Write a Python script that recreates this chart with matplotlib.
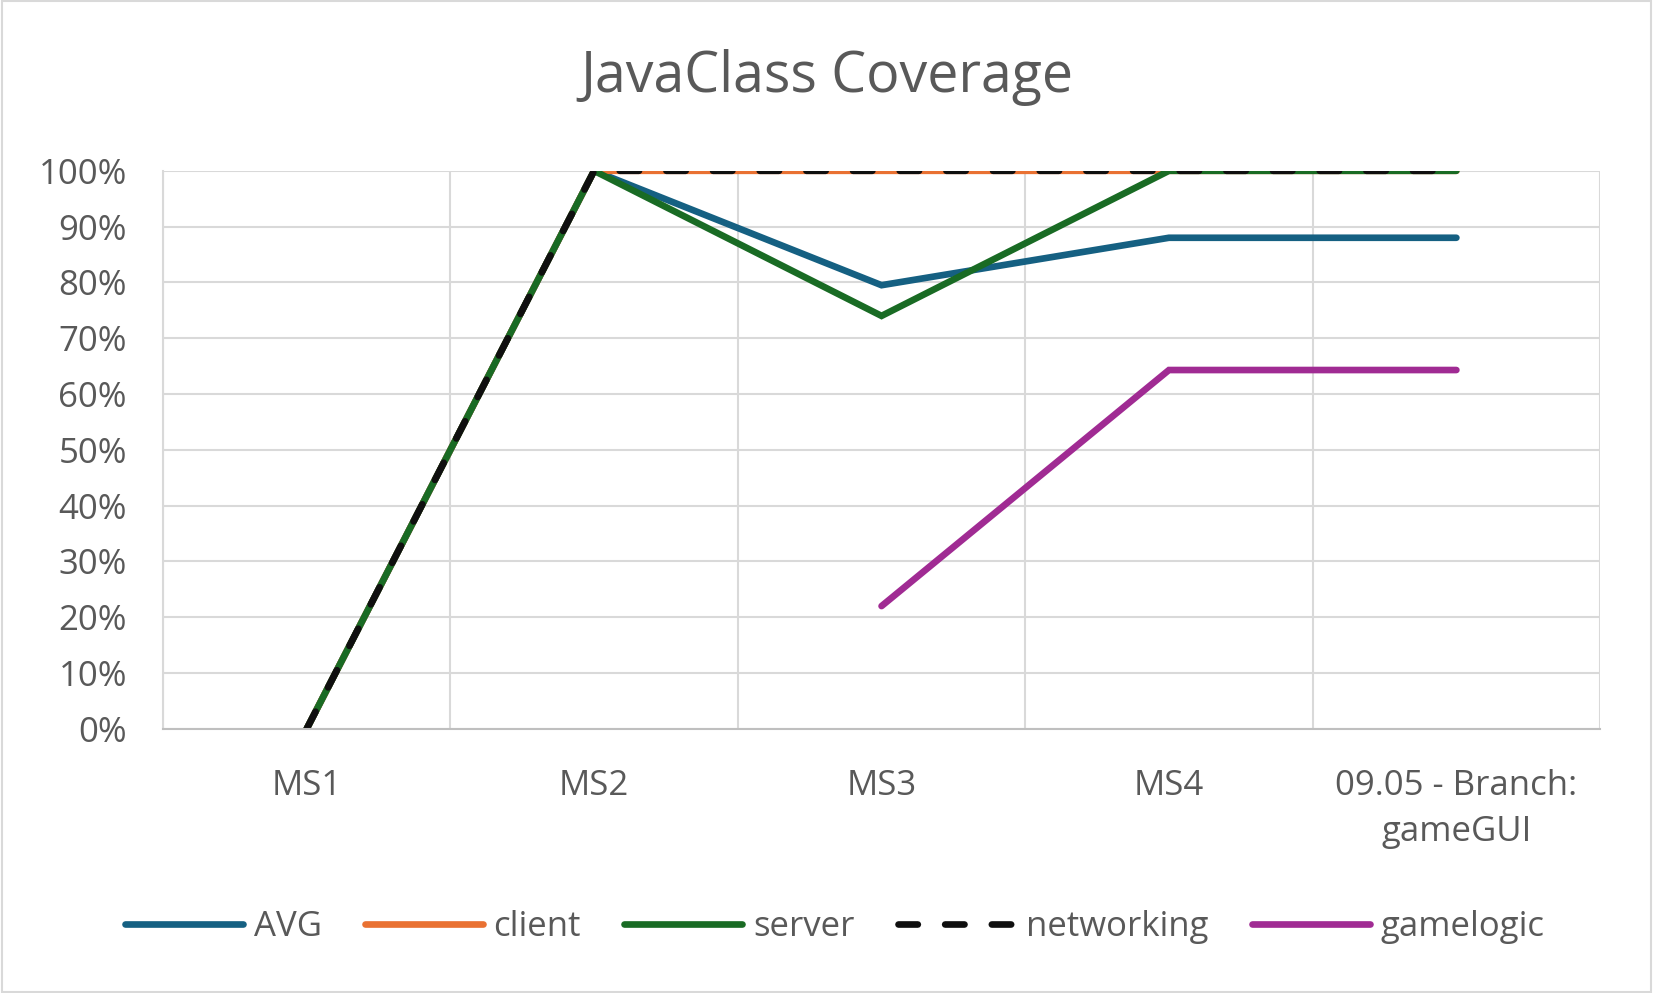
import matplotlib
matplotlib.use("Agg")
import matplotlib.pyplot as plt
import numpy as np
from matplotlib.patches import Rectangle

categories = ["MS1", "MS2", "MS3", "MS4", "09.05 - Branch:\ngameGUI"]
avg = [0, 100, 79.5, 88, 88]
client = [0, 100, 100, 100, 100]
server = [0, 100, 74, 100, 100]
networking = [0, 100, 100, 100, 100]
gamelogic = [np.nan, np.nan, 22, 64.3, 64.3]
yticks = [0, 10, 20, 30, 40, 50, 60, 70, 80, 90, 100]

plt.rcParams['font.family'] = ['Open Sans', 'DejaVu Sans']
txt = '#595959'

fig = plt.figure(figsize=(16.53, 9.93), dpi=100)
ax = fig.add_axes([0.0986, 0.266, 0.8694, 0.562])
x = np.arange(len(categories))
lw = 4.8
ax.plot(x, avg, color='#156082', lw=lw, solid_capstyle='round', solid_joinstyle='miter', label='AVG', zorder=3)
ax.plot(x, client, color='#E97132', lw=lw, solid_capstyle='round', label='client', zorder=3)
ax.plot(x, server, color='#196B24', lw=lw, solid_capstyle='round', solid_joinstyle='miter', label='server', zorder=3)
ax.plot(x, networking, color='#0F0F0F', lw=lw, dashes=(2.9, 4.1), dash_capstyle='round', label='networking', zorder=3)
ax.plot(x, gamelogic, color='#A02B93', lw=lw, solid_capstyle='round', solid_joinstyle='miter', label='gamelogic', zorder=3)

ax.set_xlim(-0.5, len(categories) - 0.5)
ax.set_ylim(0, 100)
ax.set_yticks(yticks)
ax.set_yticklabels([f"{v}%" for v in yticks])
ax.set_xticks(x)
ax.set_xticklabels(categories)
for t in ax.get_xticklabels():
    t.set_linespacing(1.45)
ax.set_xticks(np.arange(-0.5, len(categories)), minor=True)
ax.grid(True, which='major', axis='y', color='#D9D9D9', lw=1.5)
ax.grid(True, which='minor', axis='x', color='#D9D9D9', lw=1.5)
ax.tick_params(axis='both', which='both', length=0, labelsize=25, labelcolor=txt)
ax.tick_params(axis='x', pad=29)
ax.tick_params(axis='y', pad=26)
for s in ['top', 'right']:
    ax.spines[s].set_visible(False)
ax.spines['bottom'].set_color('#BFBFBF')
ax.spines['bottom'].set_linewidth(1.5)
ax.spines['left'].set_color('#D9D9D9')
ax.spines['left'].set_linewidth(1.5)
ax.spines['bottom'].set_zorder(4)

fig.text(0.5, 0.922, "JavaClass Coverage", ha='center', va='center', fontsize=40, color=txt)

leg = fig.legend(loc='center', bbox_to_anchor=(0.505, 0.066), ncol=5, frameon=False,
                 fontsize=25, labelcolor=txt, handlelength=3.4, handletextpad=0.3, columnspacing=1.25)

fig.patches.append(Rectangle((0.001, 0.001), 0.998, 0.998, transform=fig.transFigure,
                             fill=False, edgecolor='#D9D9D9', lw=1.5))
fig.savefig("out.png", dpi=100, facecolor='white')
